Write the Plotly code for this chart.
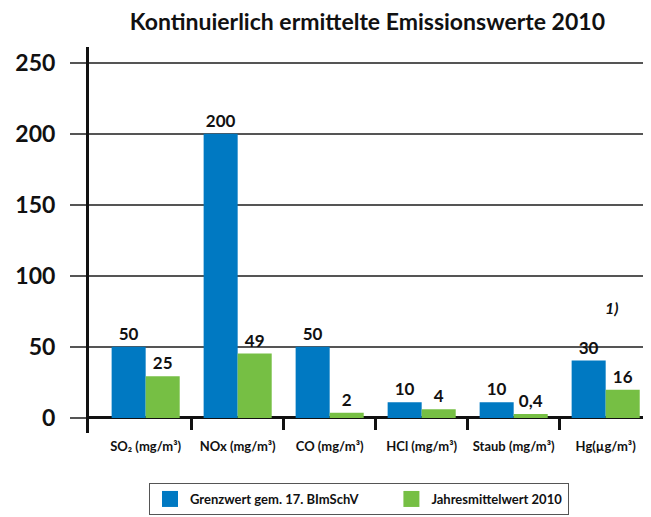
import plotly.graph_objects as go

# ---- data ----
categories = ["SO₂ (mg/m³)", "NOx (mg/m³)", "CO (mg/m³)", "HCl (mg/m³)", "Staub (mg/m³)", "Hg(µg/m³)"]
grenzwert = [50, 200, 50, 11, 11, 40.4]
grenzwert_labels = ["50", "200", "50", "10", "10", "30"]
jahresmittel = [29.4, 45.3, 3.7, 6.1, 2.8, 19.9]
jahresmittel_labels = ["25", "49", "2", "4", "0,4", "16"]
y_ticks = [0, 50, 100, 150, 200, 250]
series_names = ["Grenzwert gem. 17. BImSchV", "Jahresmittelwert 2010"]
title_text = "Kontinuierlich ermittelte Emissionswerte 2010"
footnote = "1)"

BLUE = "#0079c2"
GREEN = "#76bf44"
FONT = "Lato"

y_min, y_max = -10.6, 261
x_range = [-0.616, 5.46]

# page body has an 8px default margin, so the figure is 8px smaller
W, H = 643, 509

fig = go.Figure()
fig.add_trace(go.Bar(x=categories, y=grenzwert, text=grenzwert_labels, name=series_names[0],
                     marker=dict(color=BLUE, line=dict(width=0)), textposition="outside",
                     cliponaxis=False, constraintext="none", showlegend=False,
                     textfont=dict(family=FONT, size=17, color="#111", weight="bold")))
fig.add_trace(go.Bar(x=categories, y=jahresmittel, text=jahresmittel_labels, name=series_names[1],
                     marker=dict(color=GREEN, line=dict(width=0)), textposition="outside",
                     cliponaxis=False, constraintext="none", showlegend=False,
                     textfont=dict(family=FONT, size=17, color="#111", weight="bold")))
# legend entries (first name padded with non-breaking spaces to widen the gap)
legend_pad = ["\u00a0" * 9, ""]
for nm, col, pad in zip(series_names, [BLUE, GREEN], legend_pad):
    fig.add_trace(go.Scatter(x=[None], y=[None], mode="markers", name=nm + pad, xaxis="x2",
                             marker=dict(symbol="square", size=20, color=col)))

fig.update_layout(
    width=W, height=H,
    margin=dict(l=81, r=3, t=39, b=84, autoexpand=False),
    paper_bgcolor="white", plot_bgcolor="white",
    barmode="group", bargap=0.26, bargroupgap=0,
    font=dict(family=FONT, color="#111"),
    title=dict(text=title_text, x=0.498, xref="paper", xanchor="center",
               y=1 - 14 / H, yref="container", yanchor="middle",
               font=dict(family=FONT, size=23, weight="bold", color="#111")),
    xaxis=dict(range=x_range, showline=False, ticks="", showgrid=False, zeroline=False,
               tickfont=dict(family=FONT, size=13, weight="bold", color="#111"),
               ticklabelstandoff=4),
    xaxis2=dict(range=x_range, type="linear", overlaying="x", anchor="free",
                position=(0 - y_min) / (y_max - y_min), side="bottom",
                tickvals=[i + 0.5 for i in range(len(categories) - 1)],
                ticks="outside", ticklen=11, tickwidth=3, tickcolor="#111",
                showticklabels=False, showline=False, showgrid=False, zeroline=False),
    yaxis=dict(range=[y_min, y_max], tickvals=y_ticks,
               showgrid=True, gridcolor="#555", gridwidth=1.5,
               zeroline=True, zerolinecolor="#111", zerolinewidth=3,
               showline=True, linecolor="#111", linewidth=3,
               ticks="outside", ticklen=16, tickwidth=1.5, tickcolor="#555",
               ticklabelstandoff=10,
               tickfont=dict(family=FONT, size=23, weight="bold", color="#111")),
    legend=dict(orientation="h", x=(149 - 89) / 559, xanchor="left",
                y=(433 - 483) / 386, yanchor="top",
                bordercolor="#555", borderwidth=1, bgcolor="white",
                itemsizing="trace",
                font=dict(family=FONT, size=13, weight="bold", color="#111")),
    annotations=[dict(text=footnote, x=5.07, y=78, xref="x", yref="y", showarrow=False,
                      font=dict(family=FONT, size=16, weight="bold", style="italic", color="#111"))],
)

fig.write_html("out.html")
